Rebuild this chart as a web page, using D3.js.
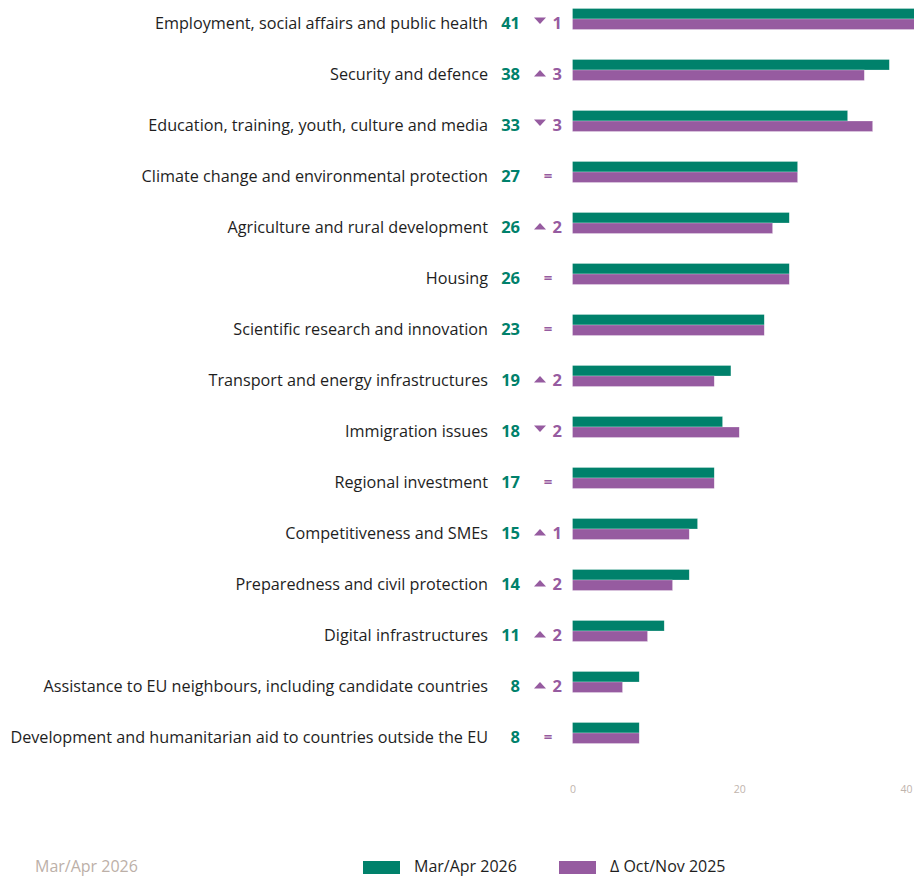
<!DOCTYPE html>
<html>
<head>
<meta charset="utf-8">
<script src="https://cdn.jsdelivr.net/npm/d3@7"></script>
<style>
  html, body { margin: 0; padding: 0; background: #fff; }
  svg { display: block; font-family: "Open Sans", sans-serif; }
</style>
</head>
<body>
<div id="chart"></div>
<script>
const categories = [
  "Employment, social affairs and public health",
  "Security and defence",
  "Education, training, youth, culture and media",
  "Climate change and environmental protection",
  "Agriculture and rural development",
  "Housing",
  "Scientific research and innovation",
  "Transport and energy infrastructures",
  "Immigration issues",
  "Regional investment",
  "Competitiveness and SMEs",
  "Preparedness and civil protection",
  "Digital infrastructures",
  "Assistance to EU neighbours, including candidate countries",
  "Development and humanitarian aid to countries outside the EU"
];
const currentValues = [41, 38, 33, 27, 26, 26, 23, 19, 18, 17, 15, 14, 11, 8, 8];
const previousValues = [42, 35, 36, 27, 24, 26, 23, 17, 20, 17, 14, 12, 9, 6, 8];
const changes = [-1, 3, -3, 0, 2, 0, 0, 2, -2, 0, 1, 2, 2, 2, 0];
const xTicks = [0, 20, 40];
const seriesNames = ["Mar/Apr 2026", "\u0394 Oct/Nov 2025"];
const periodLabel = "Mar/Apr 2026";

const W = 914, H = 877;
const green = "#00816b", purple = "#965ba0";
const tickColor = "#bfb4ad";

const svg = d3.select("#chart").append("svg")
  .attr("width", W).attr("height", H);

const x = d3.scaleLinear().domain([0, 40]).range([572.5, 906]);
const y = d3.scaleBand().domain(categories).range([-6.5, 758.5]).paddingInner(0).paddingOuter(0);
const barH = 10.5;

const rows = categories.map((c, i) => ({
  cat: c, cur: currentValues[i], prev: previousValues[i], ch: changes[i]
}));

const g = svg.append("g");

const row = g.selectAll("g.row").data(rows).join("g").attr("class", "row")
  .attr("transform", d => `translate(0,${y(d.cat) + y.bandwidth() / 2})`);

row.append("rect")
  .attr("x", x(0)).attr("y", -barH)
  .attr("width", d => x(d.cur) - x(0)).attr("height", barH)
  .attr("fill", green)
  .attr("stroke", "rgba(255,255,255,0.5)").attr("stroke-width", 0.5);
row.append("rect")
  .attr("x", x(0)).attr("y", 0)
  .attr("width", d => x(d.prev) - x(0)).attr("height", barH)
  .attr("fill", purple)
  .attr("stroke", "rgba(255,255,255,0.5)").attr("stroke-width", 0.5);

const labels = row.append("text")
  .attr("x", 488).attr("y", 10)
  .attr("text-anchor", "end")
  .attr("fill", "#1e1e1e")
  .style("font-size", "16px")
  .text(d => d.cat);

let maxW = 0;
labels.each(function () { maxW = Math.max(maxW, this.getComputedTextLength()); });
const fs = Math.min(17, 16 * 478 / maxW);
labels.style("font-size", fs + "px");

row.append("text")
  .attr("x", 520).attr("y", 10)
  .attr("text-anchor", "end")
  .attr("fill", green)
  .style("font-size", "16.5px").style("font-weight", "700")
  .text(d => d.cur);

row.filter(d => d.ch === 0).append("text")
  .attr("x", 548).attr("y", 9)
  .attr("text-anchor", "middle")
  .attr("fill", purple)
  .style("font-size", "15px").style("font-weight", "700")
  .text("=");

const chg = row.filter(d => d.ch !== 0);
chg.append("path")
  .attr("d", d => d.ch > 0
    ? "M534,6.5 L546,6.5 L540,0 Z"
    : "M534,-1.5 L546,-1.5 L540,5 Z")
  .attr("fill", purple);
chg.append("text")
  .attr("x", 552.5).attr("y", 10)
  .attr("fill", purple)
  .style("font-size", "16.5px").style("font-weight", "700")
  .text(d => Math.abs(d.ch));

const axis = svg.append("g")
  .attr("transform", "translate(0,784)")
  .call(d3.axisBottom(x).tickValues(xTicks).tickSize(0).tickPadding(0));
axis.select(".domain").remove();
axis.selectAll("text")
  .attr("fill", tickColor)
  .style("font-size", "10.5px")
  .style("font-family", "'Open Sans', sans-serif")
  .attr("dy", "0.9em");

svg.append("text")
  .attr("x", 35).attr("y", 872)
  .attr("fill", "#bcb0a8")
  .style("font-size", "16px")
  .text(periodLabel);

const legend = svg.append("g");
const legItems = [
  { name: seriesNames[0], color: green, x: 363 },
  { name: seriesNames[1], color: purple, x: 559 }
];
const li = legend.selectAll("g").data(legItems).join("g")
  .attr("transform", d => `translate(${d.x},0)`);
li.append("rect").attr("x", 0).attr("y", 861).attr("width", 37).attr("height", 13)
  .attr("fill", d => d.color);
li.append("text").attr("x", 51).attr("y", 872)
  .attr("fill", "#1e1e1e")
  .style("font-size", "16px")
  .text(d => d.name);
</script>
</body>
</html>
